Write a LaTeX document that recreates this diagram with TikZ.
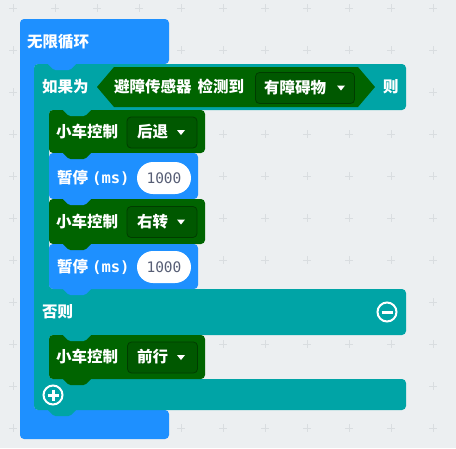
\documentclass[tikz,border=0pt]{standalone}
\usepackage{fontspec}
\newfontfamily\cjk{Noto Sans CJK SC}
\newfontfamily\monof{DejaVu Sans Mono}
\usetikzlibrary{positioning}

\definecolor{loopblue}{HTML}{1E90FF}
\definecolor{logicteal}{HTML}{00A4A6}
\definecolor{cargreen}{HTML}{006400}
\definecolor{bggray}{HTML}{ECEFF1}
\definecolor{plusgray}{HTML}{D9DDE0}
\definecolor{numgray}{HTML}{575E75}

% tab hanging below a block: colour, left x, seam y
\newcommand{\blocktab}[3]{\fill[#1, rounded corners=1.5] (#2,#3-1) -- (#2+30,#3-1) -- (#2+23,#3+6) -- (#2+7,#3+6) -- cycle;}
% dropdown arrow
\newcommand{\ddtri}[2]{\fill[white] (#1-4,#2-2.5) -- (#1+4,#2-2.5) -- (#1,#2+2.5) -- cycle;}

\begin{document}
\begin{tikzpicture}[x=1pt, y=-1pt,
    lbl/.style={text=white, font=\cjk\bfseries\fontsize{15.5}{15.5}\selectfont, inner sep=0pt, anchor=west},
    ddbox/.style={draw=cargreen!60!black, fill=cargreen!88!black, rounded corners=4, line width=0.8pt, minimum width=70, minimum height=31, inner sep=0pt},
    numoval/.style={fill=white, rounded corners=16, minimum width=54, minimum height=32, inner sep=0pt, text=numgray, font=\monof\fontsize{14.5}{14.5}\selectfont},
    gridplus/.style={draw=plusgray, line width=0.8pt}
]

% Background
\fill[bggray] (0,0) rectangle (456,448);
\useasboundingbox (0,0) rectangle (456,448);
\foreach \i in {0,...,10}
  \foreach \j in {0,...,10}
    \draw[gridplus] (13+42*\i,8+42*\j) +(-4,0) -- +(4,0) +(0,-4) -- +(0,4);

% Forever block
\fill[loopblue, rounded corners=4] (20,19) -- (169,19) -- (169,64) -- (34,64) -- (34,410) -- (169,410) -- (169,439) -- (20,439) -- cycle;
\node[lbl] (forever) at (27,42) {无限循环};

% If / else block
\fill[logicteal, rounded corners=4] (34,64) -- (406,64) -- (406,110) -- (49,110) -- (49,289) -- (406,289) -- (406,335) -- (49,335) -- (49,379) -- (406,379) -- (406,410) -- (34,410) -- cycle;
\blocktab{loopblue}{47}{64}
\node[lbl] (ifword) at (42,87) {如果为};
\node[lbl] (thenword) at (383,87) {则};

% Condition
\fill[cargreen] (97,87) -- (114,67) -- (358,67) -- (375,87) -- (358,107) -- (114,107) -- cycle;
\node[lbl] (sensor) at (114,87) {避障传感器\hspace{6pt}检测到};
\node[ddbox, minimum width=99] (obstacle) at (305,88) {};
\node[lbl] (obstacletxt) at (264,88) {有障碍物};
\ddtri{341}{88}

% Then branch
\fill[cargreen, rounded corners=4] (49,110) rectangle (205,153);
\node[lbl] (car1) at (56,132) {小车控制};
\node[ddbox] (dd1) at (162,132.5) {};
\node[lbl] (back) at (137,132) {后退};
\ddtri{181}{132.5}

\fill[loopblue, rounded corners=4] (49,153) rectangle (198,199);
\node[lbl] (pause1) at (57,178) {暂停\hspace{4pt}{\monof\bfseries(ms)}};
\node[numoval] (ms1) at (164,178) {1000};

\fill[cargreen, rounded corners=4] (49,199) rectangle (205,244);
\node[lbl] (car2) at (56,221.5) {小车控制};
\node[ddbox] (dd2) at (162,222) {};
\node[lbl] (right) at (137,221.5) {右转};
\ddtri{181}{222}

\fill[loopblue, rounded corners=4] (49,244) rectangle (198,289);
\node[lbl] (pause2) at (57,267) {暂停\hspace{4pt}{\monof\bfseries(ms)}};
\node[numoval] (ms2) at (164,267) {1000};

% Else branch
\node[lbl] (elseword) at (42,312) {否则};
\draw[white, line width=2] (387,312) circle (9.5);
\draw[white, line width=3] (381.5,312) -- (392.5,312);

\fill[cargreen, rounded corners=4] (49,335) rectangle (205,379);
\node[lbl] (car3) at (56,357) {小车控制};
\node[ddbox] (dd3) at (162.5,357.5) {};
\node[lbl] (forward) at (137,357) {前行};
\ddtri{181}{357.5}

\draw[white, line width=2] (53,395) circle (9.5);
\draw[white, line width=3] (47.5,395) -- (58.5,395) (53,389.5) -- (53,400.5);

% Tabs
\blocktab{logicteal}{62}{110}
\blocktab{cargreen}{62}{153}
\blocktab{loopblue}{62}{199}
\blocktab{cargreen}{62}{244}
\blocktab{loopblue}{62}{289}
\blocktab{logicteal}{62}{335}
\blocktab{cargreen}{62}{379}
\blocktab{logicteal}{47}{410}

\end{tikzpicture}
\end{document}
